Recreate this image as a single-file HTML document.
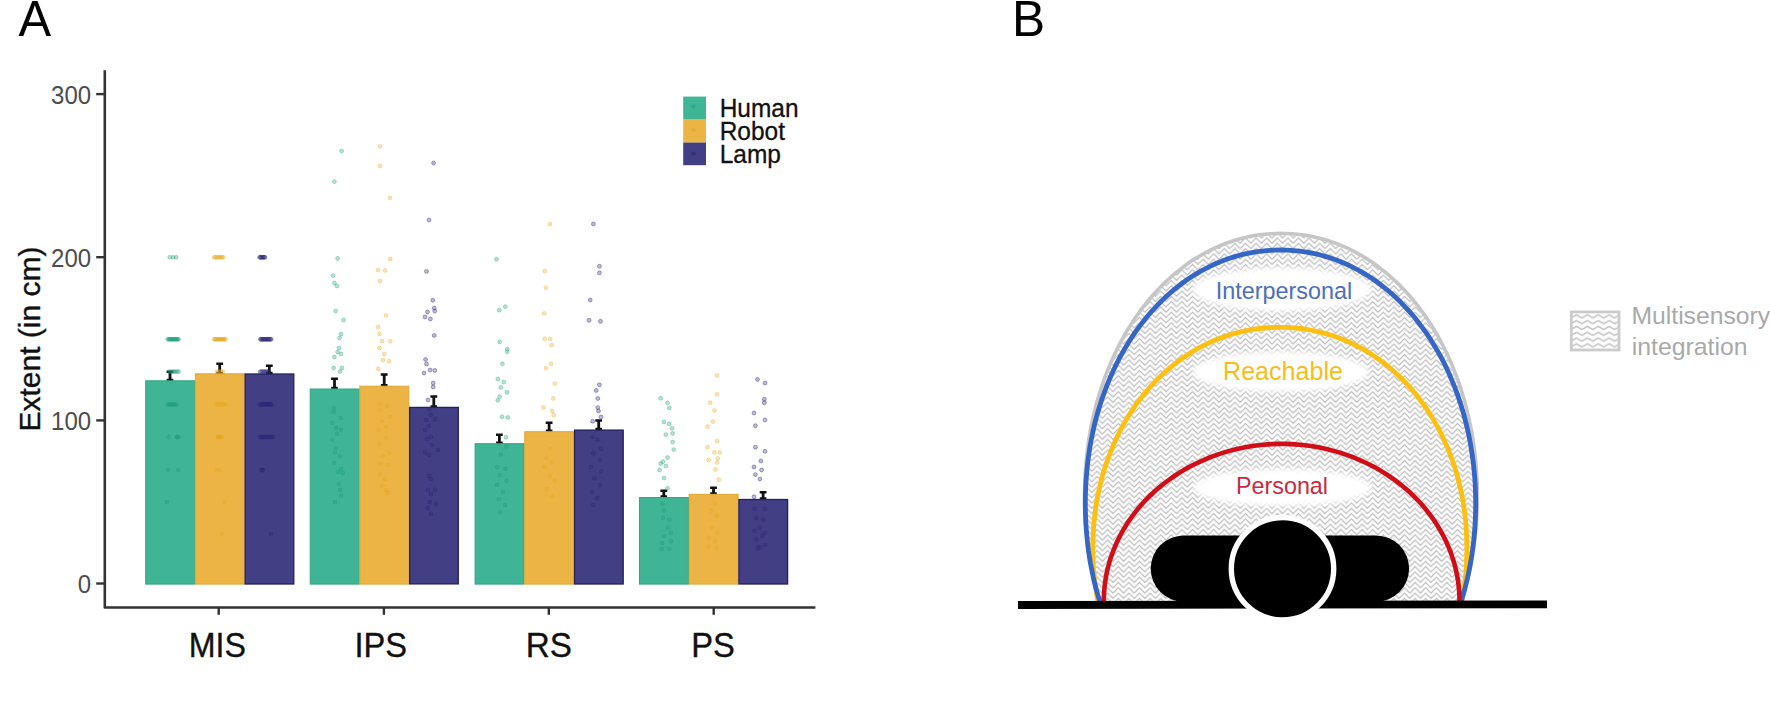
<!DOCTYPE html>
<html lang="en"><head><meta charset="utf-8"><title>Figure</title>
<style>
html,body{margin:0;padding:0;background:#fff;}
body{width:1770px;height:701px;overflow:hidden;position:relative;font-family:"Liberation Sans",sans-serif;}
svg{position:absolute;left:0;top:0;display:block;}
text{font-family:"Liberation Sans",sans-serif;}
.tick{font-size:25.1px;fill:#4d4d4d;}
.xlab{font-size:34.6px;fill:#111;stroke:#111;stroke-width:0.35px;}
.leg{font-size:25.3px;fill:#111;stroke:#111;stroke-width:0.3px;}
.panel{font-size:50.2px;fill:#000;}
</style></head><body>
<svg width="1770" height="701" viewBox="0 0 1770 701">
<defs>
<pattern id="zz" width="10.6" height="5.3" patternUnits="userSpaceOnUse"><rect width="10.6" height="5.3" fill="#fcfcfc"/><path d="M-1,5.8 L5.3,-0.5 L11.6,5.8 M-1,11.1 L5.3,4.8 L11.6,11.1 M-1,0.5 L0,-0.5 M10.6,-0.5 L11.6,0.5" fill="none" stroke="#bbbbbb" stroke-width="1.1" stroke-linejoin="miter"/></pattern>
<pattern id="zz2" width="10.9" height="5.8" patternUnits="userSpaceOnUse" x="1571" y="313.5"><rect width="10.9" height="5.8" fill="#fdfdfd"/><path d="M-0.5,4.65 L0,4.4 L5.45,1.3 L10.9,4.4 L11.4,4.65" fill="none" stroke="#c2c2c2" stroke-width="1.5"/></pattern>
<filter id="soft" x="-20%" y="-40%" width="140%" height="180%"><feGaussianBlur stdDeviation="2.4"/></filter>
<clipPath id="above"><rect x="1000" y="200" width="600" height="404"/></clipPath>
</defs>
<rect width="1770" height="701" fill="#ffffff"/>
<text class="panel" transform="translate(18.4,35.8) scale(0.975,1)">A</text>
<path d="M170.0,371.7 V382.3" stroke="#111" stroke-width="2.8" fill="none"/>
<path d="M166.6,371.8 H173.4 M166.7,379.9 H173.3" stroke="#111" stroke-width="2.5" fill="none"/>
<path d="M219.7,363.7 V375.3" stroke="#111" stroke-width="2.8" fill="none"/>
<path d="M216.3,363.8 H223.1 M216.4,372.9 H223.0" stroke="#111" stroke-width="2.5" fill="none"/>
<path d="M269.3,365.7 V375.3" stroke="#111" stroke-width="2.8" fill="none"/>
<path d="M265.9,365.7 H272.7 M266.0,372.9 H272.6" stroke="#111" stroke-width="2.5" fill="none"/>
<path d="M334.5,378.8 V390.5" stroke="#111" stroke-width="2.8" fill="none"/>
<path d="M331.1,378.8 H337.9 M331.2,388.1 H337.8" stroke="#111" stroke-width="2.5" fill="none"/>
<path d="M384.2,374.3 V387.7" stroke="#111" stroke-width="2.8" fill="none"/>
<path d="M380.8,374.4 H387.6 M380.9,385.3 H387.5" stroke="#111" stroke-width="2.5" fill="none"/>
<path d="M433.8,396.5 V408.8" stroke="#111" stroke-width="2.8" fill="none"/>
<path d="M430.4,396.6 H437.2 M430.5,406.4 H437.1" stroke="#111" stroke-width="2.5" fill="none"/>
<path d="M499.4,434.7 V445.2" stroke="#111" stroke-width="2.8" fill="none"/>
<path d="M496.0,434.8 H502.8 M496.1,442.8 H502.7" stroke="#111" stroke-width="2.5" fill="none"/>
<path d="M549.1,422.7 V433.2" stroke="#111" stroke-width="2.8" fill="none"/>
<path d="M545.7,422.7 H552.5 M545.8,430.8 H552.4" stroke="#111" stroke-width="2.5" fill="none"/>
<path d="M598.7,420.4 V431.4" stroke="#111" stroke-width="2.8" fill="none"/>
<path d="M595.3,420.4 H602.1 M595.4,429.0 H602.0" stroke="#111" stroke-width="2.5" fill="none"/>
<path d="M663.8,490.7 V499.0" stroke="#111" stroke-width="2.8" fill="none"/>
<path d="M660.4,490.8 H667.2 M660.5,496.6 H667.1" stroke="#111" stroke-width="2.5" fill="none"/>
<path d="M713.5,487.6 V495.8" stroke="#111" stroke-width="2.8" fill="none"/>
<path d="M710.1,487.7 H716.9 M710.2,493.4 H716.8" stroke="#111" stroke-width="2.5" fill="none"/>
<path d="M763.1,492.2 V500.8" stroke="#111" stroke-width="2.8" fill="none"/>
<path d="M759.7,492.2 H766.5 M759.8,498.4 H766.4" stroke="#111" stroke-width="2.5" fill="none"/>
<rect x="145.70" y="380.8" width="48.95" height="203.3" fill="#40b595" stroke="#2da682" stroke-width="1.0"/>
<rect x="195.35" y="373.8" width="48.95" height="210.3" fill="#ebb444" stroke="#e0a733" stroke-width="1.0"/>
<rect x="245.15" y="374.0" width="48.65" height="210.0" fill="#423f85" stroke="#24215e" stroke-width="1.3"/>
<rect x="310.20" y="389.0" width="48.95" height="195.1" fill="#40b595" stroke="#2da682" stroke-width="1.0"/>
<rect x="359.85" y="386.2" width="48.95" height="197.9" fill="#ebb444" stroke="#e0a733" stroke-width="1.0"/>
<rect x="409.65" y="407.4" width="48.65" height="176.5" fill="#423f85" stroke="#24215e" stroke-width="1.3"/>
<rect x="475.10" y="443.7" width="48.95" height="140.4" fill="#40b595" stroke="#2da682" stroke-width="1.0"/>
<rect x="524.75" y="431.7" width="48.95" height="152.4" fill="#ebb444" stroke="#e0a733" stroke-width="1.0"/>
<rect x="574.55" y="430.1" width="48.65" height="153.9" fill="#423f85" stroke="#24215e" stroke-width="1.3"/>
<rect x="639.50" y="497.5" width="48.95" height="86.6" fill="#40b595" stroke="#2da682" stroke-width="1.0"/>
<rect x="689.15" y="494.3" width="48.95" height="89.8" fill="#ebb444" stroke="#e0a733" stroke-width="1.0"/>
<rect x="738.95" y="499.5" width="48.65" height="84.5" fill="#423f85" stroke="#24215e" stroke-width="1.3"/>
<g fill="#1c9c79" fill-opacity="0.3" stroke="#1c9c79" stroke-opacity="0.4" stroke-width="0.8">
<circle cx="169.8" cy="257.3" r="1.95"/><circle cx="173.0" cy="257.3" r="1.95"/><circle cx="176.2" cy="257.3" r="1.95"/><circle cx="167.8" cy="339.3" r="1.95"/><circle cx="168.7" cy="339.3" r="1.95"/><circle cx="169.6" cy="339.3" r="1.95"/><circle cx="170.5" cy="339.3" r="1.95"/><circle cx="171.4" cy="339.3" r="1.95"/><circle cx="172.3" cy="339.3" r="1.95"/><circle cx="173.2" cy="339.3" r="1.95"/><circle cx="174.1" cy="339.3" r="1.95"/><circle cx="175.0" cy="339.3" r="1.95"/><circle cx="175.9" cy="339.3" r="1.95"/><circle cx="176.8" cy="339.3" r="1.95"/><circle cx="177.7" cy="339.3" r="1.95"/><circle cx="178.6" cy="339.3" r="1.95"/><circle cx="169.6" cy="371.6" r="1.95"/><circle cx="171.1" cy="371.6" r="1.95"/><circle cx="172.6" cy="371.6" r="1.95"/><circle cx="174.1" cy="371.6" r="1.95"/><circle cx="175.6" cy="371.6" r="1.95"/><circle cx="177.1" cy="371.6" r="1.95"/><circle cx="178.6" cy="371.6" r="1.95"/><circle cx="167.7" cy="404.4" r="1.95"/><circle cx="169.0" cy="404.4" r="1.95"/><circle cx="170.2" cy="404.4" r="1.95"/><circle cx="171.5" cy="404.4" r="1.95"/><circle cx="172.7" cy="404.4" r="1.95"/><circle cx="174.0" cy="404.4" r="1.95"/><circle cx="175.2" cy="404.4" r="1.95"/><circle cx="176.5" cy="404.4" r="1.95"/><circle cx="168.2" cy="437.0" r="1.95"/><circle cx="176.5" cy="437.0" r="1.95"/><circle cx="177.5" cy="437.0" r="1.95"/><circle cx="178.5" cy="437.0" r="1.95"/><circle cx="168.0" cy="470.0" r="1.95"/><circle cx="178.5" cy="470.0" r="1.95"/><circle cx="167.0" cy="502.0" r="1.95"/><circle cx="341.6" cy="151.0" r="1.95"/><circle cx="334.4" cy="181.6" r="1.95"/><circle cx="337.6" cy="258.4" r="1.95"/><circle cx="333.0" cy="275.6" r="1.95"/><circle cx="334.4" cy="283.0" r="1.95"/><circle cx="337.0" cy="286.0" r="1.95"/><circle cx="335.6" cy="311.0" r="1.95"/><circle cx="343.6" cy="320.0" r="1.95"/><circle cx="341.0" cy="334.0" r="1.95"/><circle cx="339.6" cy="338.0" r="1.95"/><circle cx="339.0" cy="348.0" r="1.95"/><circle cx="337.6" cy="352.0" r="1.95"/><circle cx="341.0" cy="354.0" r="1.95"/><circle cx="334.4" cy="357.0" r="1.95"/><circle cx="333.6" cy="368.0" r="1.95"/><circle cx="342.0" cy="368.0" r="1.95"/><circle cx="340.0" cy="371.5" r="1.95"/><circle cx="334.0" cy="408.0" r="1.95"/><circle cx="333.6" cy="412.0" r="1.95"/><circle cx="341.0" cy="418.0" r="1.95"/><circle cx="332.4" cy="423.0" r="1.95"/><circle cx="336.0" cy="428.0" r="1.95"/><circle cx="341.0" cy="430.0" r="1.95"/><circle cx="337.0" cy="434.0" r="1.95"/><circle cx="332.0" cy="440.0" r="1.95"/><circle cx="336.0" cy="448.0" r="1.95"/><circle cx="335.0" cy="452.0" r="1.95"/><circle cx="340.0" cy="456.0" r="1.95"/><circle cx="334.0" cy="463.0" r="1.95"/><circle cx="341.0" cy="469.0" r="1.95"/><circle cx="338.0" cy="472.0" r="1.95"/><circle cx="343.0" cy="473.0" r="1.95"/><circle cx="339.0" cy="484.0" r="1.95"/><circle cx="340.0" cy="490.0" r="1.95"/><circle cx="341.0" cy="496.0" r="1.95"/><circle cx="335.0" cy="502.0" r="1.95"/><circle cx="496.5" cy="259.3" r="1.95"/><circle cx="505.3" cy="306.6" r="1.95"/><circle cx="499.3" cy="310.2" r="1.95"/><circle cx="507.4" cy="349.0" r="1.95"/><circle cx="499.7" cy="341.9" r="1.95"/><circle cx="507.2" cy="351.7" r="1.95"/><circle cx="502.4" cy="363.8" r="1.95"/><circle cx="497.8" cy="379.0" r="1.95"/><circle cx="503.8" cy="382.0" r="1.95"/><circle cx="500.8" cy="387.5" r="1.95"/><circle cx="507.0" cy="392.3" r="1.95"/><circle cx="499.7" cy="396.6" r="1.95"/><circle cx="497.8" cy="400.3" r="1.95"/><circle cx="502.0" cy="416.7" r="1.95"/><circle cx="507.7" cy="417.4" r="1.95"/><circle cx="506.0" cy="437.3" r="1.95"/><circle cx="506.5" cy="446.4" r="1.95"/><circle cx="500.8" cy="454.4" r="1.95"/><circle cx="497.4" cy="467.0" r="1.95"/><circle cx="505.4" cy="469.0" r="1.95"/><circle cx="499.7" cy="475.0" r="1.95"/><circle cx="506.5" cy="480.7" r="1.95"/><circle cx="497.0" cy="485.0" r="1.95"/><circle cx="503.0" cy="492.0" r="1.95"/><circle cx="499.0" cy="499.0" r="1.95"/><circle cx="505.0" cy="505.0" r="1.95"/><circle cx="500.0" cy="512.0" r="1.95"/><circle cx="660.7" cy="398.3" r="1.95"/><circle cx="667.5" cy="402.8" r="1.95"/><circle cx="669.2" cy="407.9" r="1.95"/><circle cx="664.0" cy="422.0" r="1.95"/><circle cx="669.2" cy="424.0" r="1.95"/><circle cx="672.0" cy="428.4" r="1.95"/><circle cx="672.6" cy="433.5" r="1.95"/><circle cx="665.8" cy="434.6" r="1.95"/><circle cx="672.6" cy="442.0" r="1.95"/><circle cx="673.7" cy="449.6" r="1.95"/><circle cx="667.5" cy="457.5" r="1.95"/><circle cx="663.0" cy="461.6" r="1.95"/><circle cx="660.7" cy="463.6" r="1.95"/><circle cx="665.8" cy="466.0" r="1.95"/><circle cx="659.6" cy="470.0" r="1.95"/><circle cx="664.0" cy="478.0" r="1.95"/><circle cx="667.5" cy="488.3" r="1.95"/><circle cx="662.4" cy="503.7" r="1.95"/><circle cx="664.0" cy="510.5" r="1.95"/><circle cx="663.0" cy="518.0" r="1.95"/><circle cx="669.2" cy="519.7" r="1.95"/><circle cx="667.5" cy="527.6" r="1.95"/><circle cx="671.0" cy="532.7" r="1.95"/><circle cx="664.0" cy="536.0" r="1.95"/><circle cx="671.0" cy="541.3" r="1.95"/><circle cx="662.4" cy="543.0" r="1.95"/><circle cx="661.7" cy="549.0" r="1.95"/><circle cx="669.2" cy="549.0" r="1.95"/>
</g>
<g fill="#e5a820" fill-opacity="0.3" stroke="#e5a820" stroke-opacity="0.4" stroke-width="0.8">
<circle cx="214.0" cy="257.3" r="1.95"/><circle cx="215.3" cy="257.3" r="1.95"/><circle cx="216.7" cy="257.3" r="1.95"/><circle cx="218.0" cy="257.3" r="1.95"/><circle cx="219.4" cy="257.3" r="1.95"/><circle cx="220.7" cy="257.3" r="1.95"/><circle cx="222.1" cy="257.3" r="1.95"/><circle cx="223.4" cy="257.3" r="1.95"/><circle cx="214.0" cy="339.3" r="1.95"/><circle cx="215.0" cy="339.3" r="1.95"/><circle cx="215.9" cy="339.3" r="1.95"/><circle cx="216.9" cy="339.3" r="1.95"/><circle cx="217.9" cy="339.3" r="1.95"/><circle cx="218.8" cy="339.3" r="1.95"/><circle cx="219.8" cy="339.3" r="1.95"/><circle cx="220.8" cy="339.3" r="1.95"/><circle cx="221.7" cy="339.3" r="1.95"/><circle cx="222.7" cy="339.3" r="1.95"/><circle cx="223.7" cy="339.3" r="1.95"/><circle cx="224.6" cy="339.3" r="1.95"/><circle cx="225.6" cy="339.3" r="1.95"/><circle cx="217.0" cy="371.6" r="1.95"/><circle cx="219.0" cy="371.6" r="1.95"/><circle cx="221.0" cy="371.6" r="1.95"/><circle cx="223.0" cy="371.6" r="1.95"/><circle cx="216.5" cy="404.4" r="1.95"/><circle cx="218.7" cy="404.4" r="1.95"/><circle cx="220.9" cy="404.4" r="1.95"/><circle cx="223.1" cy="404.4" r="1.95"/><circle cx="225.3" cy="404.4" r="1.95"/><circle cx="217.5" cy="437.0" r="1.95"/><circle cx="218.3" cy="437.0" r="1.95"/><circle cx="219.2" cy="437.0" r="1.95"/><circle cx="220.0" cy="437.0" r="1.95"/><circle cx="220.9" cy="437.0" r="1.95"/><circle cx="221.7" cy="437.0" r="1.95"/><circle cx="216.5" cy="470.0" r="1.95"/><circle cx="219.5" cy="470.0" r="1.95"/><circle cx="224.7" cy="502.0" r="1.95"/><circle cx="222.0" cy="534.0" r="1.95"/><circle cx="380.0" cy="146.4" r="1.95"/><circle cx="380.0" cy="166.0" r="1.95"/><circle cx="390.0" cy="198.0" r="1.95"/><circle cx="390.3" cy="259.0" r="1.95"/><circle cx="378.0" cy="270.0" r="1.95"/><circle cx="385.0" cy="270.4" r="1.95"/><circle cx="380.0" cy="281.0" r="1.95"/><circle cx="386.0" cy="315.5" r="1.95"/><circle cx="378.0" cy="327.0" r="1.95"/><circle cx="379.5" cy="334.0" r="1.95"/><circle cx="382.0" cy="341.0" r="1.95"/><circle cx="390.3" cy="341.3" r="1.95"/><circle cx="379.5" cy="348.0" r="1.95"/><circle cx="384.3" cy="354.0" r="1.95"/><circle cx="383.0" cy="360.0" r="1.95"/><circle cx="389.0" cy="361.0" r="1.95"/><circle cx="378.3" cy="369.0" r="1.95"/><circle cx="380.0" cy="404.0" r="1.95"/><circle cx="387.0" cy="406.0" r="1.95"/><circle cx="380.0" cy="410.0" r="1.95"/><circle cx="390.0" cy="417.0" r="1.95"/><circle cx="382.0" cy="421.0" r="1.95"/><circle cx="386.0" cy="427.0" r="1.95"/><circle cx="379.0" cy="430.0" r="1.95"/><circle cx="386.0" cy="438.0" r="1.95"/><circle cx="379.0" cy="444.0" r="1.95"/><circle cx="389.0" cy="453.0" r="1.95"/><circle cx="383.0" cy="456.0" r="1.95"/><circle cx="380.0" cy="464.0" r="1.95"/><circle cx="388.0" cy="465.0" r="1.95"/><circle cx="380.0" cy="474.0" r="1.95"/><circle cx="385.0" cy="479.0" r="1.95"/><circle cx="382.0" cy="486.0" r="1.95"/><circle cx="386.0" cy="490.0" r="1.95"/><circle cx="388.0" cy="493.0" r="1.95"/><circle cx="550.0" cy="224.0" r="1.95"/><circle cx="544.8" cy="271.0" r="1.95"/><circle cx="545.9" cy="287.7" r="1.95"/><circle cx="544.2" cy="313.4" r="1.95"/><circle cx="544.8" cy="338.7" r="1.95"/><circle cx="550.2" cy="339.0" r="1.95"/><circle cx="551.7" cy="345.0" r="1.95"/><circle cx="551.0" cy="363.8" r="1.95"/><circle cx="546.0" cy="368.3" r="1.95"/><circle cx="554.9" cy="383.6" r="1.95"/><circle cx="553.3" cy="398.5" r="1.95"/><circle cx="543.5" cy="407.6" r="1.95"/><circle cx="552.2" cy="411.0" r="1.95"/><circle cx="553.8" cy="415.0" r="1.95"/><circle cx="549.9" cy="448.7" r="1.95"/><circle cx="546.5" cy="457.8" r="1.95"/><circle cx="552.2" cy="462.4" r="1.95"/><circle cx="544.2" cy="467.0" r="1.95"/><circle cx="549.9" cy="476.0" r="1.95"/><circle cx="554.5" cy="480.7" r="1.95"/><circle cx="547.0" cy="489.0" r="1.95"/><circle cx="552.0" cy="497.0" r="1.95"/><circle cx="717.0" cy="375.4" r="1.95"/><circle cx="717.0" cy="394.2" r="1.95"/><circle cx="710.3" cy="402.8" r="1.95"/><circle cx="714.4" cy="410.6" r="1.95"/><circle cx="713.0" cy="421.6" r="1.95"/><circle cx="707.5" cy="426.7" r="1.95"/><circle cx="717.0" cy="441.0" r="1.95"/><circle cx="707.5" cy="447.0" r="1.95"/><circle cx="714.4" cy="452.4" r="1.95"/><circle cx="719.8" cy="452.4" r="1.95"/><circle cx="717.8" cy="458.5" r="1.95"/><circle cx="708.5" cy="460.0" r="1.95"/><circle cx="717.0" cy="462.6" r="1.95"/><circle cx="715.4" cy="469.5" r="1.95"/><circle cx="718.8" cy="479.7" r="1.95"/><circle cx="715.4" cy="503.7" r="1.95"/><circle cx="711.0" cy="510.5" r="1.95"/><circle cx="717.0" cy="515.6" r="1.95"/><circle cx="712.0" cy="527.6" r="1.95"/><circle cx="717.0" cy="532.7" r="1.95"/><circle cx="708.5" cy="537.9" r="1.95"/><circle cx="715.4" cy="541.3" r="1.95"/><circle cx="708.5" cy="546.4" r="1.95"/><circle cx="717.0" cy="548.0" r="1.95"/>
</g>
<g fill="#2c2878" fill-opacity="0.3" stroke="#2c2878" stroke-opacity="0.5" stroke-width="0.8">
<circle cx="259.6" cy="257.3" r="1.95"/><circle cx="260.5" cy="257.3" r="1.95"/><circle cx="261.4" cy="257.3" r="1.95"/><circle cx="262.3" cy="257.3" r="1.95"/><circle cx="263.2" cy="257.3" r="1.95"/><circle cx="264.1" cy="257.3" r="1.95"/><circle cx="265.0" cy="257.3" r="1.95"/><circle cx="260.4" cy="339.3" r="1.95"/><circle cx="261.3" cy="339.3" r="1.95"/><circle cx="262.2" cy="339.3" r="1.95"/><circle cx="263.1" cy="339.3" r="1.95"/><circle cx="264.0" cy="339.3" r="1.95"/><circle cx="264.9" cy="339.3" r="1.95"/><circle cx="265.8" cy="339.3" r="1.95"/><circle cx="266.7" cy="339.3" r="1.95"/><circle cx="267.6" cy="339.3" r="1.95"/><circle cx="268.5" cy="339.3" r="1.95"/><circle cx="269.4" cy="339.3" r="1.95"/><circle cx="270.3" cy="339.3" r="1.95"/><circle cx="271.2" cy="339.3" r="1.95"/><circle cx="260.3" cy="371.6" r="1.95"/><circle cx="261.7" cy="371.6" r="1.95"/><circle cx="263.0" cy="371.6" r="1.95"/><circle cx="264.4" cy="371.6" r="1.95"/><circle cx="265.8" cy="371.6" r="1.95"/><circle cx="267.1" cy="371.6" r="1.95"/><circle cx="268.5" cy="371.6" r="1.95"/><circle cx="260.0" cy="404.4" r="1.95"/><circle cx="261.1" cy="404.4" r="1.95"/><circle cx="262.3" cy="404.4" r="1.95"/><circle cx="263.4" cy="404.4" r="1.95"/><circle cx="264.6" cy="404.4" r="1.95"/><circle cx="265.8" cy="404.4" r="1.95"/><circle cx="266.9" cy="404.4" r="1.95"/><circle cx="268.1" cy="404.4" r="1.95"/><circle cx="269.2" cy="404.4" r="1.95"/><circle cx="270.4" cy="404.4" r="1.95"/><circle cx="271.5" cy="404.4" r="1.95"/><circle cx="260.0" cy="437.0" r="1.95"/><circle cx="261.3" cy="437.0" r="1.95"/><circle cx="262.6" cy="437.0" r="1.95"/><circle cx="263.9" cy="437.0" r="1.95"/><circle cx="265.2" cy="437.0" r="1.95"/><circle cx="266.5" cy="437.0" r="1.95"/><circle cx="267.8" cy="437.0" r="1.95"/><circle cx="269.1" cy="437.0" r="1.95"/><circle cx="270.4" cy="437.0" r="1.95"/><circle cx="271.7" cy="437.0" r="1.95"/><circle cx="273.0" cy="437.0" r="1.95"/><circle cx="261.5" cy="470.0" r="1.95"/><circle cx="262.1" cy="470.0" r="1.95"/><circle cx="262.8" cy="470.0" r="1.95"/><circle cx="271.0" cy="534.0" r="1.95"/><circle cx="433.6" cy="163.0" r="1.95"/><circle cx="429.0" cy="220.0" r="1.95"/><circle cx="426.5" cy="271.4" r="1.95"/><circle cx="432.8" cy="300.3" r="1.95"/><circle cx="434.2" cy="308.0" r="1.95"/><circle cx="434.8" cy="311.0" r="1.95"/><circle cx="427.5" cy="312.0" r="1.95"/><circle cx="425.0" cy="317.0" r="1.95"/><circle cx="430.4" cy="319.0" r="1.95"/><circle cx="434.2" cy="335.5" r="1.95"/><circle cx="425.5" cy="359.5" r="1.95"/><circle cx="426.5" cy="364.0" r="1.95"/><circle cx="430.0" cy="370.0" r="1.95"/><circle cx="434.8" cy="370.4" r="1.95"/><circle cx="424.0" cy="373.0" r="1.95"/><circle cx="433.2" cy="383.0" r="1.95"/><circle cx="433.2" cy="387.0" r="1.95"/><circle cx="428.0" cy="400.0" r="1.95"/><circle cx="429.0" cy="409.0" r="1.95"/><circle cx="431.0" cy="415.0" r="1.95"/><circle cx="435.0" cy="419.0" r="1.95"/><circle cx="426.0" cy="420.0" r="1.95"/><circle cx="429.0" cy="426.0" r="1.95"/><circle cx="425.0" cy="430.0" r="1.95"/><circle cx="431.0" cy="437.0" r="1.95"/><circle cx="427.0" cy="439.0" r="1.95"/><circle cx="432.0" cy="445.0" r="1.95"/><circle cx="438.0" cy="450.0" r="1.95"/><circle cx="425.0" cy="452.0" r="1.95"/><circle cx="429.0" cy="455.0" r="1.95"/><circle cx="429.0" cy="476.0" r="1.95"/><circle cx="431.0" cy="479.0" r="1.95"/><circle cx="435.0" cy="490.0" r="1.95"/><circle cx="428.0" cy="490.0" r="1.95"/><circle cx="431.0" cy="494.0" r="1.95"/><circle cx="430.0" cy="502.0" r="1.95"/><circle cx="436.0" cy="504.0" r="1.95"/><circle cx="428.0" cy="508.0" r="1.95"/><circle cx="431.0" cy="514.0" r="1.95"/><circle cx="593.4" cy="224.0" r="1.95"/><circle cx="599.4" cy="266.3" r="1.95"/><circle cx="599.4" cy="272.8" r="1.95"/><circle cx="590.2" cy="300.0" r="1.95"/><circle cx="589.1" cy="320.3" r="1.95"/><circle cx="600.5" cy="321.3" r="1.95"/><circle cx="599.4" cy="384.8" r="1.95"/><circle cx="596.2" cy="390.5" r="1.95"/><circle cx="597.8" cy="398.5" r="1.95"/><circle cx="597.8" cy="407.6" r="1.95"/><circle cx="598.5" cy="411.0" r="1.95"/><circle cx="592.6" cy="421.3" r="1.95"/><circle cx="601.0" cy="417.0" r="1.95"/><circle cx="592.0" cy="437.0" r="1.95"/><circle cx="597.8" cy="439.6" r="1.95"/><circle cx="601.2" cy="448.7" r="1.95"/><circle cx="593.3" cy="453.3" r="1.95"/><circle cx="600.1" cy="460.0" r="1.95"/><circle cx="591.0" cy="467.0" r="1.95"/><circle cx="601.2" cy="471.5" r="1.95"/><circle cx="594.4" cy="478.4" r="1.95"/><circle cx="600.1" cy="485.2" r="1.95"/><circle cx="592.0" cy="492.0" r="1.95"/><circle cx="597.0" cy="498.0" r="1.95"/><circle cx="593.0" cy="505.0" r="1.95"/><circle cx="757.5" cy="379.5" r="1.95"/><circle cx="765.0" cy="383.0" r="1.95"/><circle cx="764.3" cy="399.3" r="1.95"/><circle cx="764.3" cy="402.8" r="1.95"/><circle cx="754.0" cy="413.0" r="1.95"/><circle cx="765.0" cy="419.9" r="1.95"/><circle cx="755.4" cy="425.7" r="1.95"/><circle cx="755.4" cy="447.2" r="1.95"/><circle cx="765.0" cy="451.3" r="1.95"/><circle cx="760.9" cy="460.9" r="1.95"/><circle cx="754.0" cy="467.0" r="1.95"/><circle cx="761.6" cy="470.0" r="1.95"/><circle cx="755.4" cy="474.6" r="1.95"/><circle cx="759.9" cy="479.0" r="1.95"/><circle cx="754.0" cy="496.8" r="1.95"/><circle cx="754.7" cy="508.8" r="1.95"/><circle cx="765.0" cy="508.8" r="1.95"/><circle cx="756.4" cy="518.0" r="1.95"/><circle cx="763.3" cy="519.7" r="1.95"/><circle cx="759.9" cy="527.6" r="1.95"/><circle cx="754.7" cy="531.0" r="1.95"/><circle cx="765.0" cy="532.7" r="1.95"/><circle cx="762.2" cy="536.0" r="1.95"/><circle cx="756.4" cy="539.6" r="1.95"/><circle cx="759.9" cy="547.4" r="1.95"/><circle cx="765.0" cy="544.7" r="1.95"/><circle cx="757.5" cy="548.0" r="1.95"/>
</g>
<path d="M104.8,70.2 V607.5 H815.4" fill="none" stroke="#333" stroke-width="2.6" stroke-linejoin="round"/>
<path d="M96.2,583.5 H104.8" stroke="#333" stroke-width="2.4"/>
<text class="tick" transform="translate(91.1,593.2) scale(0.956,1)" text-anchor="end">0</text>
<path d="M96.2,420.4 H104.8" stroke="#333" stroke-width="2.4"/>
<text class="tick" transform="translate(91.1,430.1) scale(0.956,1)" text-anchor="end">100</text>
<path d="M96.2,257.2 H104.8" stroke="#333" stroke-width="2.4"/>
<text class="tick" transform="translate(91.1,266.9) scale(0.956,1)" text-anchor="end">200</text>
<path d="M96.2,94.1 H104.8" stroke="#333" stroke-width="2.4"/>
<text class="tick" transform="translate(91.1,103.8) scale(0.956,1)" text-anchor="end">300</text>
<path d="M218.7,607.5 V614.8" stroke="#333" stroke-width="2.4"/>
<text class="xlab" transform="translate(217.3,656.7) scale(0.93,1)" text-anchor="middle">MIS</text>
<path d="M383.9,607.5 V614.8" stroke="#333" stroke-width="2.4"/>
<text class="xlab" transform="translate(380.8,656.7) scale(0.943,1)" text-anchor="middle">IPS</text>
<path d="M548.8,607.5 V614.8" stroke="#333" stroke-width="2.4"/>
<text class="xlab" transform="translate(548.9,656.7) scale(0.962,1)" text-anchor="middle">RS</text>
<path d="M713.7,607.5 V614.8" stroke="#333" stroke-width="2.4"/>
<text class="xlab" transform="translate(713.1,656.7) scale(0.945,1)" text-anchor="middle">PS</text>
<text transform="translate(39.5,339) rotate(-90)" text-anchor="middle" font-size="30" fill="#111" stroke="#111" stroke-width="0.35">Extent (in cm)</text>
<rect x="683.2" y="96.6" width="22.8" height="22.4" fill="#40b595"/>
<rect x="683.2" y="119" width="22.8" height="23.6" fill="#ebb444"/>
<rect x="683.2" y="142.6" width="22.8" height="22.6" fill="#423f85"/>
<circle cx="693.5" cy="106.5" r="2" fill="#2f9f80" fill-opacity="0.6"/>
<circle cx="693.5" cy="130" r="2" fill="#dca431" fill-opacity="0.6"/>
<circle cx="693.5" cy="153.5" r="2" fill="#2d2a72" fill-opacity="0.7"/>
<text class="leg" transform="translate(719.7,116.9) scale(0.968,1)">Human</text>
<text class="leg" transform="translate(719.7,140.3) scale(0.968,1)">Robot</text>
<text class="leg" transform="translate(719.7,163.2) scale(0.968,1)">Lamp</text>
<text class="panel" transform="translate(1011.9,35.8) scale(0.99,1)">B</text>
<g clip-path="url(#above)">
<path d="M1477.3,496.2 L1477.3,503.5 L1477.1,510.6 L1476.7,517.6 L1476.3,524.6 L1475.7,531.6 L1474.9,538.5 L1474.1,545.3 L1473.1,552.1 L1472.0,558.9 L1470.7,565.6 L1469.3,572.2 L1467.8,578.8 L1466.2,585.4 L1464.5,591.8 L1462.6,598.2 L1460.6,604.5 L1458.5,610.8 L1456.2,616.9 L1453.8,623.0 L1451.4,629.0 L1448.8,634.8 L1446.1,640.6 L1443.2,646.3 L1440.3,651.9 L1437.3,657.4 L1434.1,662.7 L1430.9,668.0 L1427.5,673.1 L1424.1,678.1 L1420.5,683.0 L1416.9,687.7 L1413.1,692.4 L1409.3,696.9 L1405.4,701.2 L1401.4,705.4 L1397.3,709.5 L1393.1,713.4 L1388.9,717.2 L1384.5,720.8 L1380.1,724.3 L1375.7,727.6 L1371.1,730.8 L1366.5,733.8 L1361.9,736.6 L1357.2,739.3 L1352.4,741.8 L1347.6,744.2 L1342.7,746.3 L1337.7,748.4 L1332.8,750.2 L1327.8,751.9 L1322.7,753.4 L1317.6,754.7 L1312.5,755.8 L1307.3,756.8 L1302.1,757.6 L1296.9,758.2 L1291.7,758.7 L1286.3,758.9 L1280.9,759.0 L1275.5,758.9 L1270.2,758.7 L1264.9,758.2 L1259.7,757.6 L1254.5,756.8 L1249.3,755.8 L1244.2,754.7 L1239.1,753.4 L1234.1,751.9 L1229.1,750.2 L1224.1,748.4 L1219.2,746.3 L1214.3,744.2 L1209.5,741.8 L1204.7,739.3 L1200.0,736.6 L1195.3,733.8 L1190.7,730.8 L1186.2,727.6 L1181.7,724.3 L1177.3,720.8 L1173.0,717.2 L1168.7,713.4 L1164.6,709.5 L1160.5,705.4 L1156.5,701.2 L1152.6,696.9 L1148.7,692.4 L1145.0,687.7 L1141.3,683.0 L1137.8,678.1 L1134.3,673.1 L1131.0,668.0 L1127.7,662.7 L1124.6,657.4 L1121.5,651.9 L1118.6,646.3 L1115.8,640.6 L1113.1,634.8 L1110.5,629.0 L1108.0,623.0 L1105.6,616.9 L1103.4,610.8 L1101.3,604.5 L1099.3,598.2 L1097.4,591.8 L1095.6,585.4 L1094.0,578.8 L1092.5,572.2 L1091.1,565.6 L1089.9,558.9 L1088.7,552.1 L1087.8,545.3 L1086.9,538.5 L1086.2,531.6 L1085.6,524.6 L1085.1,517.6 L1084.8,510.6 L1084.6,503.5 L1084.5,496.2 L1084.6,488.9 L1084.8,481.8 L1085.1,474.8 L1085.6,467.8 L1086.2,460.8 L1086.9,453.9 L1087.8,447.1 L1088.7,440.3 L1089.9,433.5 L1091.1,426.8 L1092.5,420.2 L1094.0,413.6 L1095.6,407.0 L1097.4,400.6 L1099.3,394.2 L1101.3,387.9 L1103.4,381.6 L1105.6,375.5 L1108.0,369.4 L1110.5,363.4 L1113.1,357.6 L1115.8,351.8 L1118.6,346.1 L1121.5,340.5 L1124.6,335.0 L1127.7,329.7 L1131.0,324.4 L1134.3,319.3 L1137.8,314.3 L1141.3,309.4 L1145.0,304.7 L1148.7,300.0 L1152.6,295.5 L1156.5,291.2 L1160.5,287.0 L1164.6,282.9 L1168.7,279.0 L1173.0,275.2 L1177.3,271.6 L1181.7,268.1 L1186.2,264.8 L1190.7,261.6 L1195.3,258.6 L1200.0,255.8 L1204.7,253.1 L1209.5,250.6 L1214.3,248.2 L1219.2,246.1 L1224.1,244.0 L1229.1,242.2 L1234.1,240.5 L1239.1,239.0 L1244.2,237.7 L1249.3,236.6 L1254.5,235.6 L1259.7,234.8 L1264.9,234.2 L1270.2,233.7 L1275.5,233.5 L1280.9,233.4 L1286.3,233.5 L1291.7,233.7 L1296.9,234.2 L1302.1,234.8 L1307.3,235.6 L1312.5,236.6 L1317.6,237.7 L1322.7,239.0 L1327.8,240.5 L1332.8,242.2 L1337.7,244.0 L1342.7,246.1 L1347.6,248.2 L1352.4,250.6 L1357.2,253.1 L1361.9,255.8 L1366.5,258.6 L1371.1,261.6 L1375.7,264.8 L1380.1,268.1 L1384.5,271.6 L1388.9,275.2 L1393.1,279.0 L1397.3,282.9 L1401.4,287.0 L1405.4,291.2 L1409.3,295.5 L1413.1,300.0 L1416.9,304.7 L1420.5,309.4 L1424.1,314.3 L1427.5,319.3 L1430.9,324.4 L1434.1,329.7 L1437.3,335.0 L1440.3,340.5 L1443.2,346.1 L1446.1,351.8 L1448.8,357.6 L1451.4,363.4 L1453.8,369.4 L1456.2,375.5 L1458.5,381.6 L1460.6,387.9 L1462.6,394.2 L1464.5,400.6 L1466.2,407.0 L1467.8,413.6 L1469.3,420.2 L1470.7,426.8 L1472.0,433.5 L1473.1,440.3 L1474.1,447.1 L1474.9,453.9 L1475.7,460.8 L1476.3,467.8 L1476.7,474.8 L1477.1,481.8 L1477.3,488.9Z" fill="url(#zz)" stroke="#c6c6c6" stroke-width="3.6"/>
<path d="M1466.9,548.0 L1466.8,554.2 L1466.6,560.3 L1466.3,566.2 L1465.9,572.1 L1465.3,578.0 L1464.6,583.8 L1463.8,589.6 L1462.9,595.3 L1461.8,601.0 L1460.6,606.7 L1459.3,612.3 L1457.9,617.8 L1456.4,623.3 L1454.7,628.7 L1452.9,634.1 L1451.0,639.4 L1449.0,644.6 L1446.9,649.8 L1444.6,654.9 L1442.3,659.9 L1439.8,664.8 L1437.2,669.6 L1434.6,674.4 L1431.8,679.1 L1428.9,683.7 L1425.9,688.2 L1422.8,692.6 L1419.6,696.8 L1416.4,701.0 L1413.0,705.1 L1409.5,709.1 L1406.0,713.0 L1402.3,716.7 L1398.6,720.4 L1394.8,723.9 L1390.9,727.3 L1387.0,730.6 L1382.9,733.7 L1378.8,736.8 L1374.6,739.7 L1370.4,742.4 L1366.1,745.1 L1361.7,747.6 L1357.3,750.0 L1352.8,752.2 L1348.2,754.3 L1343.6,756.3 L1339.0,758.1 L1334.3,759.8 L1329.5,761.3 L1324.8,762.7 L1319.9,764.0 L1315.1,765.1 L1310.2,766.0 L1305.2,766.8 L1300.3,767.5 L1295.3,768.0 L1290.2,768.4 L1285.1,768.6 L1279.8,768.7 L1274.6,768.6 L1269.5,768.4 L1264.4,768.0 L1259.4,767.5 L1254.4,766.8 L1249.5,766.0 L1244.6,765.1 L1239.7,764.0 L1234.9,762.7 L1230.1,761.3 L1225.4,759.8 L1220.7,758.1 L1216.0,756.3 L1211.4,754.3 L1206.9,752.2 L1202.4,750.0 L1198.0,747.6 L1193.6,745.1 L1189.3,742.4 L1185.0,739.7 L1180.9,736.8 L1176.7,733.7 L1172.7,730.6 L1168.7,727.3 L1164.9,723.9 L1161.1,720.4 L1157.3,716.7 L1153.7,713.0 L1150.1,709.1 L1146.7,705.1 L1143.3,701.0 L1140.0,696.8 L1136.8,692.6 L1133.8,688.2 L1130.8,683.7 L1127.9,679.1 L1125.1,674.4 L1122.4,669.6 L1119.9,664.8 L1117.4,659.9 L1115.0,654.9 L1112.8,649.8 L1110.7,644.6 L1108.7,639.4 L1106.8,634.1 L1105.0,628.7 L1103.3,623.3 L1101.8,617.8 L1100.4,612.3 L1099.1,606.7 L1097.9,601.0 L1096.8,595.3 L1095.9,589.6 L1095.1,583.8 L1094.4,578.0 L1093.8,572.1 L1093.4,566.2 L1093.1,560.3 L1092.9,554.2 L1092.8,548.0 L1092.9,541.8 L1093.1,535.8 L1093.4,529.8 L1093.8,523.9 L1094.4,518.0 L1095.1,512.2 L1095.9,506.4 L1096.8,500.7 L1097.9,495.0 L1099.1,489.4 L1100.4,483.8 L1101.8,478.2 L1103.3,472.8 L1105.0,467.3 L1106.8,462.0 L1108.7,456.7 L1110.7,451.4 L1112.8,446.3 L1115.0,441.2 L1117.4,436.2 L1119.9,431.2 L1122.4,426.4 L1125.1,421.6 L1127.9,417.0 L1130.8,412.4 L1133.8,407.9 L1136.8,403.5 L1140.0,399.2 L1143.3,395.0 L1146.7,390.9 L1150.1,386.9 L1153.7,383.1 L1157.3,379.3 L1161.1,375.7 L1164.9,372.2 L1168.7,368.8 L1172.7,365.5 L1176.7,362.3 L1180.9,359.3 L1185.0,356.4 L1189.3,353.6 L1193.6,351.0 L1198.0,348.4 L1202.4,346.1 L1206.9,343.8 L1211.4,341.7 L1216.0,339.8 L1220.7,337.9 L1225.4,336.3 L1230.1,334.7 L1234.9,333.3 L1239.7,332.1 L1244.6,331.0 L1249.5,330.0 L1254.4,329.2 L1259.4,328.5 L1264.4,328.0 L1269.5,327.6 L1274.6,327.4 L1279.8,327.4 L1285.1,327.4 L1290.2,327.6 L1295.3,328.0 L1300.3,328.5 L1305.2,329.2 L1310.2,330.0 L1315.1,331.0 L1319.9,332.1 L1324.8,333.3 L1329.5,334.7 L1334.3,336.3 L1339.0,337.9 L1343.6,339.8 L1348.2,341.7 L1352.8,343.8 L1357.3,346.1 L1361.7,348.4 L1366.1,351.0 L1370.4,353.6 L1374.6,356.4 L1378.8,359.3 L1382.9,362.3 L1387.0,365.5 L1390.9,368.8 L1394.8,372.2 L1398.6,375.7 L1402.3,379.3 L1406.0,383.1 L1409.5,386.9 L1413.0,390.9 L1416.4,395.0 L1419.6,399.2 L1422.8,403.5 L1425.9,407.9 L1428.9,412.4 L1431.8,417.0 L1434.6,421.6 L1437.2,426.4 L1439.8,431.2 L1442.3,436.2 L1444.6,441.2 L1446.9,446.3 L1449.0,451.4 L1451.0,456.7 L1452.9,462.0 L1454.7,467.3 L1456.4,472.8 L1457.9,478.2 L1459.3,483.8 L1460.6,489.4 L1461.8,495.0 L1462.9,500.7 L1463.8,506.4 L1464.6,512.2 L1465.3,518.0 L1465.9,523.9 L1466.3,529.8 L1466.6,535.8 L1466.8,541.8Z" fill="none" stroke="#fdc010" stroke-width="4.8"/>
<path d="M1475.7,503.6 L1475.6,510.6 L1475.4,517.5 L1475.1,524.3 L1474.6,531.0 L1474.0,537.7 L1473.3,544.4 L1472.4,551.0 L1471.4,557.6 L1470.3,564.1 L1469.1,570.6 L1467.7,577.0 L1466.2,583.3 L1464.6,589.6 L1462.9,595.9 L1461.0,602.0 L1459.0,608.1 L1456.9,614.1 L1454.7,620.1 L1452.3,625.9 L1449.9,631.7 L1447.3,637.4 L1444.6,643.0 L1441.8,648.5 L1438.9,653.8 L1435.8,659.1 L1432.7,664.3 L1429.5,669.4 L1426.2,674.3 L1422.7,679.1 L1419.2,683.8 L1415.6,688.4 L1411.9,692.9 L1408.0,697.2 L1404.1,701.4 L1400.2,705.5 L1396.1,709.4 L1392.0,713.2 L1387.7,716.8 L1383.4,720.3 L1379.1,723.7 L1374.6,726.9 L1370.1,729.9 L1365.6,732.8 L1360.9,735.6 L1356.2,738.2 L1351.5,740.6 L1346.7,742.9 L1341.8,745.0 L1337.0,746.9 L1332.0,748.7 L1327.0,750.3 L1322.0,751.7 L1317.0,753.0 L1311.9,754.1 L1306.7,755.1 L1301.6,755.8 L1296.4,756.4 L1291.1,756.9 L1285.9,757.1 L1280.5,757.2 L1275.1,757.1 L1269.8,756.9 L1264.6,756.4 L1259.4,755.8 L1254.2,755.1 L1249.1,754.1 L1244.0,753.0 L1238.9,751.7 L1233.9,750.3 L1228.9,748.7 L1224.0,746.9 L1219.1,745.0 L1214.3,742.9 L1209.5,740.6 L1204.7,738.2 L1200.0,735.6 L1195.4,732.8 L1190.8,729.9 L1186.3,726.9 L1181.9,723.7 L1177.5,720.3 L1173.2,716.8 L1169.0,713.2 L1164.9,709.4 L1160.8,705.5 L1156.8,701.4 L1152.9,697.2 L1149.1,692.9 L1145.4,688.4 L1141.8,683.8 L1138.2,679.1 L1134.8,674.3 L1131.5,669.4 L1128.2,664.3 L1125.1,659.1 L1122.1,653.8 L1119.2,648.5 L1116.4,643.0 L1113.7,637.4 L1111.1,631.7 L1108.6,625.9 L1106.3,620.1 L1104.1,614.1 L1101.9,608.1 L1100.0,602.0 L1098.1,595.9 L1096.3,589.6 L1094.7,583.3 L1093.2,577.0 L1091.9,570.6 L1090.6,564.1 L1089.5,557.6 L1088.5,551.0 L1087.7,544.4 L1087.0,537.7 L1086.4,531.0 L1085.9,524.3 L1085.6,517.5 L1085.4,510.6 L1085.3,503.6 L1085.4,496.6 L1085.6,489.7 L1085.9,482.9 L1086.4,476.2 L1087.0,469.5 L1087.7,462.8 L1088.5,456.2 L1089.5,449.6 L1090.6,443.1 L1091.9,436.6 L1093.2,430.2 L1094.7,423.9 L1096.3,417.6 L1098.1,411.3 L1100.0,405.2 L1101.9,399.1 L1104.1,393.1 L1106.3,387.1 L1108.6,381.3 L1111.1,375.5 L1113.7,369.8 L1116.4,364.2 L1119.2,358.7 L1122.1,353.4 L1125.1,348.1 L1128.2,342.9 L1131.5,337.8 L1134.8,332.9 L1138.2,328.1 L1141.8,323.4 L1145.4,318.8 L1149.1,314.3 L1152.9,310.0 L1156.8,305.8 L1160.8,301.7 L1164.9,297.8 L1169.0,294.0 L1173.2,290.4 L1177.5,286.9 L1181.9,283.5 L1186.3,280.3 L1190.8,277.3 L1195.4,274.4 L1200.0,271.6 L1204.7,269.0 L1209.5,266.6 L1214.3,264.3 L1219.1,262.2 L1224.0,260.3 L1228.9,258.5 L1233.9,256.9 L1238.9,255.5 L1244.0,254.2 L1249.1,253.1 L1254.2,252.1 L1259.4,251.4 L1264.6,250.8 L1269.8,250.3 L1275.1,250.1 L1280.5,250.0 L1285.9,250.1 L1291.1,250.3 L1296.4,250.8 L1301.6,251.4 L1306.7,252.1 L1311.9,253.1 L1317.0,254.2 L1322.0,255.5 L1327.0,256.9 L1332.0,258.5 L1337.0,260.3 L1341.8,262.2 L1346.7,264.3 L1351.5,266.6 L1356.2,269.0 L1360.9,271.6 L1365.6,274.4 L1370.1,277.3 L1374.6,280.3 L1379.1,283.5 L1383.4,286.9 L1387.7,290.4 L1392.0,294.0 L1396.1,297.8 L1400.2,301.7 L1404.1,305.8 L1408.0,310.0 L1411.9,314.3 L1415.6,318.8 L1419.2,323.4 L1422.7,328.1 L1426.2,332.9 L1429.5,337.8 L1432.7,342.9 L1435.8,348.1 L1438.9,353.4 L1441.8,358.7 L1444.6,364.2 L1447.3,369.8 L1449.9,375.5 L1452.3,381.3 L1454.7,387.1 L1456.9,393.1 L1459.0,399.1 L1461.0,405.2 L1462.9,411.3 L1464.6,417.6 L1466.2,423.9 L1467.7,430.2 L1469.1,436.6 L1470.3,443.1 L1471.4,449.6 L1472.4,456.2 L1473.3,462.8 L1474.0,469.5 L1474.6,476.2 L1475.1,482.9 L1475.4,489.7 L1475.6,496.6Z" fill="none" stroke="#3566c6" stroke-width="4.8"/>
<path d="M1459.5,600.9 L1459.4,604.9 L1459.3,609.0 L1458.9,613.0 L1458.5,617.1 L1458.0,621.1 L1457.3,625.2 L1456.5,629.2 L1455.6,633.2 L1454.6,637.2 L1453.4,641.2 L1452.1,645.2 L1450.8,649.1 L1449.3,653.0 L1447.6,656.8 L1445.9,660.6 L1444.1,664.4 L1442.1,668.2 L1440.0,671.8 L1437.8,675.5 L1435.6,679.1 L1433.2,682.6 L1430.7,686.1 L1428.1,689.5 L1425.4,692.9 L1422.6,696.2 L1419.7,699.4 L1416.7,702.6 L1413.6,705.7 L1410.5,708.7 L1407.2,711.7 L1403.9,714.5 L1400.4,717.3 L1396.9,720.1 L1393.3,722.7 L1389.7,725.2 L1385.9,727.7 L1382.1,730.1 L1378.2,732.4 L1374.3,734.6 L1370.3,736.7 L1366.2,738.7 L1362.1,740.6 L1357.9,742.5 L1353.7,744.2 L1349.4,745.8 L1345.1,747.4 L1340.7,748.8 L1336.3,750.1 L1331.9,751.3 L1327.4,752.5 L1322.9,753.5 L1318.4,754.4 L1313.8,755.2 L1309.2,755.9 L1304.6,756.5 L1300.0,757.0 L1295.4,757.3 L1290.8,757.6 L1286.2,757.8 L1281.7,757.8 L1277.1,757.8 L1272.5,757.6 L1267.9,757.3 L1263.3,757.0 L1258.7,756.5 L1254.1,755.9 L1249.5,755.2 L1245.0,754.4 L1240.5,753.5 L1236.0,752.5 L1231.5,751.3 L1227.0,750.1 L1222.6,748.8 L1218.3,747.4 L1213.9,745.8 L1209.7,744.2 L1205.4,742.5 L1201.3,740.6 L1197.1,738.7 L1193.1,736.7 L1189.1,734.6 L1185.1,732.4 L1181.2,730.1 L1177.4,727.7 L1173.7,725.2 L1170.0,722.7 L1166.4,720.1 L1162.9,717.3 L1159.5,714.5 L1156.1,711.7 L1152.9,708.7 L1149.7,705.7 L1146.6,702.6 L1143.6,699.4 L1140.8,696.2 L1138.0,692.9 L1135.3,689.5 L1132.7,686.1 L1130.2,682.6 L1127.8,679.1 L1125.5,675.5 L1123.3,671.8 L1121.2,668.2 L1119.3,664.4 L1117.4,660.6 L1115.7,656.8 L1114.1,653.0 L1112.6,649.1 L1111.2,645.2 L1109.9,641.2 L1108.8,637.2 L1107.7,633.2 L1106.8,629.2 L1106.0,625.2 L1105.4,621.1 L1104.8,617.1 L1104.4,613.0 L1104.1,609.0 L1103.9,604.9 L1103.8,600.9 L1103.9,596.8 L1104.1,592.8 L1104.4,588.7 L1104.8,584.6 L1105.4,580.6 L1106.0,576.5 L1106.8,572.5 L1107.7,568.5 L1108.8,564.5 L1109.9,560.5 L1111.2,556.6 L1112.6,552.6 L1114.1,548.8 L1115.7,544.9 L1117.4,541.1 L1119.3,537.3 L1121.2,533.6 L1123.3,529.9 L1125.5,526.2 L1127.8,522.6 L1130.2,519.1 L1132.7,515.6 L1135.3,512.2 L1138.0,508.8 L1140.8,505.5 L1143.6,502.3 L1146.6,499.1 L1149.7,496.0 L1152.9,493.0 L1156.1,490.1 L1159.5,487.2 L1162.9,484.4 L1166.4,481.7 L1170.0,479.0 L1173.7,476.5 L1177.4,474.0 L1181.2,471.6 L1185.1,469.3 L1189.1,467.1 L1193.1,465.0 L1197.1,463.0 L1201.3,461.1 L1205.4,459.3 L1209.7,457.5 L1213.9,455.9 L1218.3,454.4 L1222.6,452.9 L1227.0,451.6 L1231.5,450.4 L1236.0,449.3 L1240.5,448.2 L1245.0,447.3 L1249.5,446.5 L1254.1,445.8 L1258.7,445.2 L1263.3,444.8 L1267.9,444.4 L1272.5,444.1 L1277.1,443.9 L1281.7,443.9 L1286.2,443.9 L1290.8,444.1 L1295.4,444.4 L1300.0,444.8 L1304.6,445.2 L1309.2,445.8 L1313.8,446.5 L1318.4,447.3 L1322.9,448.2 L1327.4,449.3 L1331.9,450.4 L1336.3,451.6 L1340.7,452.9 L1345.1,454.4 L1349.4,455.9 L1353.7,457.5 L1357.9,459.3 L1362.1,461.1 L1366.2,463.0 L1370.3,465.0 L1374.3,467.1 L1378.2,469.3 L1382.1,471.6 L1385.9,474.0 L1389.7,476.5 L1393.3,479.0 L1396.9,481.7 L1400.4,484.4 L1403.9,487.2 L1407.2,490.1 L1410.5,493.0 L1413.6,496.0 L1416.7,499.1 L1419.7,502.3 L1422.6,505.5 L1425.4,508.8 L1428.1,512.2 L1430.7,515.6 L1433.2,519.1 L1435.6,522.6 L1437.8,526.2 L1440.0,529.9 L1442.1,533.6 L1444.1,537.3 L1445.9,541.1 L1447.6,544.9 L1449.3,548.8 L1450.8,552.6 L1452.1,556.6 L1453.4,560.5 L1454.6,564.5 L1455.6,568.5 L1456.5,572.5 L1457.3,576.5 L1458.0,580.6 L1458.5,584.6 L1458.9,588.7 L1459.3,592.8 L1459.4,596.8Z" fill="none" stroke="#d10d17" stroke-width="4.6"/>
</g>
<ellipse cx="1282" cy="289.5" rx="89" ry="21.5" fill="#fff" filter="url(#soft)"/>
<ellipse cx="1280.5" cy="371.8" rx="88" ry="20" fill="#fff" filter="url(#soft)"/>
<ellipse cx="1282.5" cy="487.6" rx="89" ry="18.5" fill="#fff" filter="url(#soft)"/>
<text transform="translate(1283.9,299) scale(0.947,1)" text-anchor="middle" font-size="24.7" fill="#4c6fb7">Interpersonal</text>
<text transform="translate(1283,379.6) scale(0.958,1)" text-anchor="middle" font-size="26.2" fill="#f8bd1c">Reachable</text>
<text transform="translate(1282,494) scale(0.943,1)" text-anchor="middle" font-size="24.7" fill="#c9283f">Personal</text>
<rect x="1150.7" y="535.4" width="258.4" height="66.4" rx="33.2" ry="33.2" fill="#000"/>
<path d="M1018,605 L1547,604.4" stroke="#000" stroke-width="7.8"/>
<circle cx="1282.5" cy="568.7" r="51.2" fill="#000" stroke="#fff" stroke-width="5.4"/>
<rect x="1571.3" y="311.9" width="47.7" height="38.1" fill="url(#zz2)" stroke="#cbcbcb" stroke-width="2.8"/>
<text x="1631.5" y="324.4" font-size="24.7" fill="#a9a9a9">Multisensory</text>
<text x="1631.8" y="355" font-size="24.8" fill="#a9a9a9">integration</text>
</svg>
</body></html>
